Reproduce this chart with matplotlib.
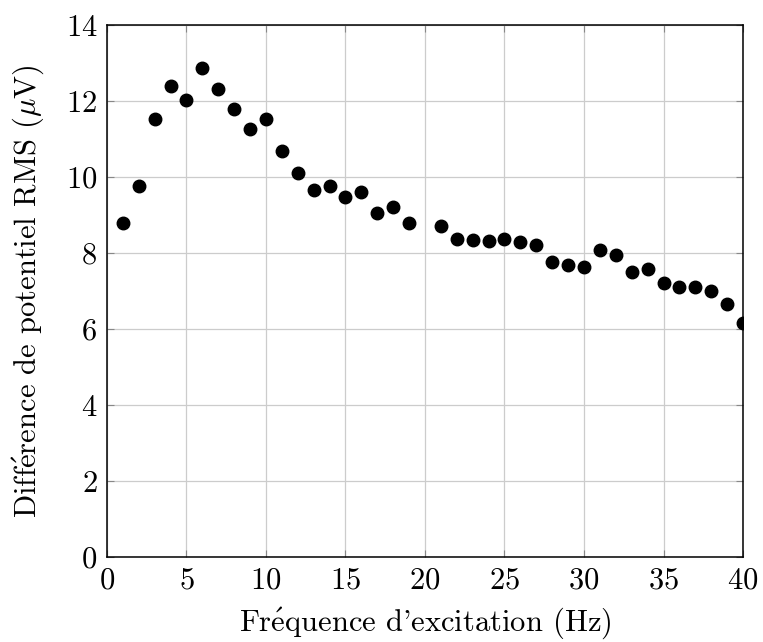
import numpy as np
import matplotlib
matplotlib.use('Agg')
import matplotlib.pyplot as plt

# Data
freq_hz = [1, 2, 3, 4, 5, 6, 7, 8, 9, 10, 11, 12, 13, 14, 15, 16, 17, 18, 19,
           21, 22, 23, 24, 25, 26, 27, 28, 29, 30, 31, 32, 33, 34, 35, 36, 37,
           38, 39, 40]
rms_uv = [8.80, 9.76, 11.53, 12.39, 12.03, 12.86, 12.32, 11.80, 11.26, 11.53,
          10.69, 10.10, 9.67, 9.76, 9.48, 9.61, 9.06, 9.22, 8.78,
          8.72, 8.36, 8.34, 8.32, 8.37, 8.28, 8.21, 7.77, 7.69, 7.62, 8.09,
          7.96, 7.49, 7.58, 7.20, 7.11, 7.11, 7.00, 6.67, 6.16]

x_ticks = [0, 5, 10, 15, 20, 25, 30, 35, 40]
y_ticks = [0, 2, 4, 6, 8, 10, 12, 14]

plt.rcParams['font.family'] = ['cmr10', 'DejaVu Serif']
plt.rcParams['mathtext.fontset'] = 'cm'
plt.rcParams['axes.formatter.use_mathtext'] = True


def main():
    fig = plt.figure(figsize=(7.63, 6.42), dpi=100)
    ax = fig.add_axes([0.1402, 0.1324, 0.8336, 0.8286])

    ax.plot(freq_hz, rms_uv, 'o', color='black', markersize=9, zorder=3)

    ax.set_xlim(0, 40)
    ax.set_ylim(0, 14)
    ax.set_xticks(x_ticks)
    ax.set_yticks(y_ticks)
    ax.tick_params(direction='in', top=True, right=True, labelsize=22,
                   length=5, width=0.8, color='#888888')
    ax.tick_params(axis='y', pad=7)
    ax.tick_params(axis='x', pad=7)
    ax.grid(True, color='#cccccc', linewidth=0.9)
    ax.set_axisbelow(True)
    for spine in ax.spines.values():
        spine.set_linewidth(1.1)

    # é drawn through mathtext, cmr10 has no precomposed accented glyphs
    ax.set_xlabel("Fr$\\mathrm{\\acute{e}}$quence d'excitation (Hz)",
                  fontsize=22, labelpad=8)
    ax.set_ylabel('Diff$\\mathrm{\\acute{e}}$rence de potentiel RMS ($\\mu$V)',
                  fontsize=22, labelpad=14)

    fig.savefig('out.png', dpi=100)


if __name__ == "__main__":
    main()
